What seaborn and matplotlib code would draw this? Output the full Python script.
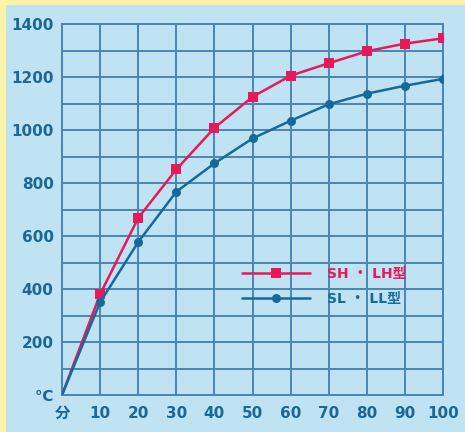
import matplotlib
matplotlib.use("Agg")
import matplotlib.pyplot as plt
import seaborn as sns
import pandas as pd
from matplotlib.patches import Rectangle

minutes = [0, 10, 20, 30, 40, 50, 60, 70, 80, 90, 100]
sh_lh = [0, 380, 668, 851, 1008, 1125, 1205, 1252, 1297, 1326, 1346]
sl_ll = [0, 350, 577, 767, 874, 968, 1035, 1097, 1137, 1167, 1193]
series_names = ["SH ・ LH型", "SL ・ LL型"]
x_ticks = [0, 10, 20, 30, 40, 50, 60, 70, 80, 90, 100]
x_labels = ["分", "10", "20", "30", "40", "50", "60", "70", "80", "90", "100"]
y_ticks = [0, 200, 400, 600, 800, 1000, 1200, 1400]
y_labels = ["℃", "200", "400", "600", "800", "1000", "1200", "1400"]

df = pd.DataFrame({
    "min": minutes * 2,
    "temp": sh_lh + sl_ll,
    "type": [series_names[0]] * len(minutes) + [series_names[1]] * len(minutes),
})

sns.set_style("white")
plt.rcParams['font.family'] = ['DejaVu Sans', 'Noto Sans CJK JP']

bg = "#bfe3f3"
red = "#e8195a"
blue = "#166a9b"
grid_c = "#4a86b3"
text_c = "#1b6797"

fig = plt.figure(figsize=(4.65, 4.32), dpi=100, facecolor=bg)
ax = fig.add_axes([62/465, 1-395/432, (443-62)/465, (395-24)/432])
ax.set_facecolor(bg)

sns.lineplot(data=df, x="min", y="temp", hue="type", style="type",
             palette=[red, blue], markers=["s", "o"], dashes=False,
             markersize=6.5, linewidth=1.8, markeredgewidth=0, ax=ax, zorder=3)

for line in ax.get_lines():
    line.set_markevery(range(1, len(minutes)))

ax.set_xlim(0, 100)
ax.set_ylim(0, 1400)
ax.set_xticks(x_ticks)
ax.set_xticklabels(x_labels)
ax.set_yticks(y_ticks)
ax.set_yticklabels(y_labels)
ax.set_yticks(range(100, 1400, 200), minor=True)
ax.grid(True, which="both", color=grid_c, linewidth=1.4)
ax.set_axisbelow(True)
for s in ax.spines.values():
    s.set_color(grid_c)
    s.set_linewidth(1.4)
ax.tick_params(axis="y", which="major", length=5, color=grid_c, width=1.4, pad=1,
               labelsize=11, labelcolor=text_c)
ax.tick_params(axis="y", which="minor", length=0)
ax.tick_params(axis="x", length=0, pad=8, labelsize=11, labelcolor=text_c)
for lab in ax.get_xticklabels() + ax.get_yticklabels():
    lab.set_fontweight("bold")
ax.set_xlabel("")
ax.set_ylabel("")

leg = ax.legend(loc="upper left", bbox_to_anchor=(0.44, 0.38), frameon=False,
                handlelength=4.9, handletextpad=1.2, labelspacing=0.85,
                prop={"weight": "bold", "size": 10})
for t, c in zip(leg.get_texts(), [red, blue]):
    t.set_color(c)

fig.patches.append(Rectangle((0, 1-5/432), 1, 5/432, transform=fig.transFigure,
                             facecolor="#fbf3a8", edgecolor="none"))
fig.patches.append(Rectangle((0, 0), 6/465, 1, transform=fig.transFigure,
                             facecolor="#fbf3a8", edgecolor="none"))

fig.savefig("out.png", dpi=100, facecolor=bg)
